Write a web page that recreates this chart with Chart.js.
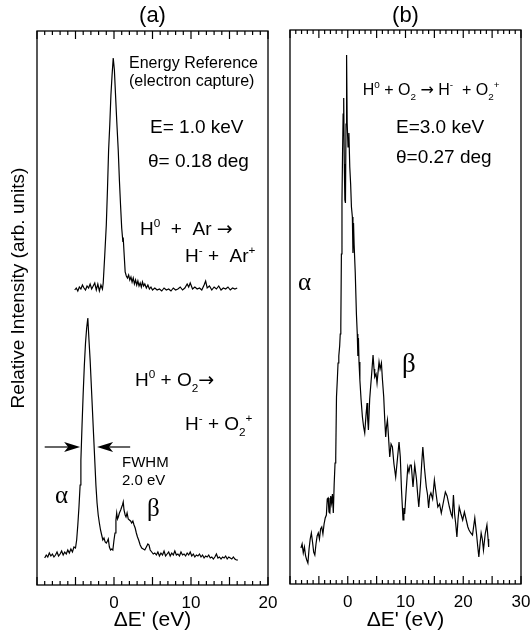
<!DOCTYPE html>
<html>
<head>
<meta charset="utf-8">
<script src="https://cdn.jsdelivr.net/npm/chart.js@4.4.0/dist/chart.umd.min.js"></script>
<style>
  html, body { margin: 0; padding: 0; background: #fff; }
  #wrap { position: relative; width: 531px; height: 634px; overflow: hidden; }
  canvas { position: absolute; top: 0; }
  #chartA { left: 0; }
  #chartB { left: 270px; }
</style>
</head>
<body>
<div id="wrap">
  <canvas id="chartA" width="280" height="634"></canvas>
  <canvas id="chartB" width="261" height="634"></canvas>
</div>
<script>
// Panel (a), upper trace: H0 + Ar -> H- + Ar+ (energy reference)
const arEnergy = [
  -5.1,-4.9,-4.7,-4.5,-4.3,-4.1,-3.9,-3.7,-3.5,-3.3,
  -3.1,-2.9,-2.7,-2.5,-2.3,-2.1,-1.9,-1.7,-1.5,-1.4,
  -1.2,-1.0,-0.85,-0.7,-0.55,-0.4,-0.25,-0.1,0.05,0.2,
  0.35,0.55,0.7,0.85,1.0,1.1,1.15,1.2,1.3,1.45,
  1.6,1.75,1.9,2.05,2.2,2.35,2.5,2.65,2.8,2.95,
  3.1,3.25,3.4,3.55,3.7,3.85,4.0,4.2,4.4,4.6,
  4.8,5.0,5.3,5.6,5.9,6.2,6.5,6.8,7.1,7.4,
  7.7,8.0,8.3,8.6,8.9,9.2,9.5,9.7,9.9,10.2,
  10.5,10.8,11.1,11.4,11.7,11.9,12.1,12.4,12.7,13.0,
  13.3,13.6,13.9,14.2,14.5,14.8,15.1,15.4,15.7,16.0
];
const arCounts = [
  295,297,294,298,296,300,297,295,299,297,
  301,296,299,302,295,301,294,300,296,302,
  330,360,395,435,460,490,510,527,515,490,
  465,435,405,380,357,348,343,347,333,313,
  309,307,310,305,308,303,307,301,305,300,
  304,299,302,298,303,299,301,297,300,296,
  298,295,297,295,296,294,297,295,296,294,
  297,295,296,298,295,297,301,298,302,296,
  298,296,297,295,300,304,297,299,295,298,
  296,299,295,297,296,298,295,297,296,297
];

// Panel (a), lower trace: H0 + O2 -> H- + O2+ at 1.0 keV
const o2aEnergy = [
  -9.0,-8.8,-8.6,-8.4,-8.2,-8.0,-7.8,-7.6,-7.4,-7.2,
  -7.0,-6.8,-6.6,-6.4,-6.2,-6.0,-5.8,-5.6,-5.4,-5.2,
  -5.0,-4.85,-4.7,-4.55,-4.4,-4.3,-4.15,-4.0,-3.85,-3.7,
  -3.55,-3.4,-3.25,-3.1,-2.95,-2.8,-2.65,-2.5,-2.35,-2.2,
  -2.05,-1.9,-1.75,-1.6,-1.45,-1.3,-1.15,-1.0,-0.85,-0.74,
  -0.6,-0.45,-0.3,-0.15,0.0,0.13,0.25,0.35,0.45,0.56,
  0.7,0.87,1.0,1.1,1.2,1.3,1.45,1.56,1.7,1.85,
  2.0,2.15,2.3,2.45,2.6,2.75,2.9,3.05,3.2,3.4,
  3.6,3.8,4.0,4.2,4.4,4.55,4.7,4.9,5.1,5.3,
  5.5,5.7,5.9,6.1,6.3,6.5,6.7,6.9,7.1,7.3,
  7.5,7.7,7.9,8.1,8.3,8.5,8.7,8.9,9.1,9.3,
  9.5,9.7,9.9,10.1,10.3,10.5,10.7,10.9,11.1,11.3,
  11.5,11.7,11.9,12.1,12.3,12.5,12.7,12.9,13.1,13.3,
  13.5,13.7,13.9,14.1,14.3,14.5,14.7,14.9,15.1,15.3,
  15.5,15.7,15.9,16.1
];
const o2aCounts = [
  27,30,28,32,29,31,28,30,33,29,
  31,34,30,33,31,35,32,36,33,38,
  37,45,60,78,100,125,160,192,220,242,
  257,267,245,225,200,175,150,125,100,82,
  70,62,55,50,45,47,43,42,44,46,
  38,35,36,35,45,52,65,72,66,68,
  72,75,78,80,83,75,70,68,72,66,
  65,64,62,64,60,57,52,48,45,40,
  37,36,35,38,41,40,35,33,31,32,
  30,33,29,32,30,34,29,31,33,29,
  32,30,34,30,31,29,33,30,31,29,
  32,30,33,29,31,28,30,29,31,28,
  30,27,29,28,30,27,28,26,28,31,
  27,28,26,28,27,29,26,28,27,26,
  28,26,25,25
];

// Panel (b): H0 + O2 -> H- + O2+ at 3.0 keV
const o2bEnergy = [
  -8.1,-7.9,-7.7,-7.5,-7.3,-7.1,-6.9,-6.7,-6.5,-6.3,
  -6.1,-5.9,-5.7,-5.5,-5.3,-5.1,-4.9,-4.7,-4.5,-4.3,
  -4.1,-3.9,-3.7,-3.55,-3.4,-3.25,-3.1,-2.95,-2.8,-2.65,
  -2.5,-2.35,-2.2,-2.08,-1.95,-1.8,-1.68,-1.55,-1.4,-1.3,
  -1.2,-1.1,-1.0,-0.9,-0.8,-0.7,-0.6,-0.5,-0.4,-0.3,
  -0.2,-0.1,0.05,0.2,0.35,0.5,0.64,0.8,0.9,1.0,
  1.1,1.3,1.5,1.65,1.75,1.85,1.95,2.1,2.3,2.54,
  2.75,2.94,3.15,3.34,3.45,3.58,3.8,4.0,4.1,4.38,
  4.55,4.67,4.9,5.07,5.25,5.42,5.6,5.83,6.0,6.23,
  6.4,6.57,6.72,6.87,7.05,7.27,7.5,7.73,8.0,8.3,
  8.6,8.88,9.1,9.3,9.57,9.72,9.86,10.1,10.4,10.6,
  10.8,11.0,11.3,11.6,11.9,12.1,12.3,12.6,12.8,13.0,
  13.3,13.6,13.8,14.0,14.2,14.4,14.7,15.0,15.3,15.6,
  15.9,16.2,16.5,16.9,17.2,17.6,17.9,18.1,18.3,18.5,
  18.7,18.9,19.1,19.3,19.6,19.9,20.2,20.4,20.8,21.0,
  21.3,21.6,22.0,22.3,22.5,22.7,22.9,23.1,23.3,23.5,
  23.8,24.1,24.3,24.4
];
const o2bCounts = [
  36,40,31,37,28,24,21,35,45,51,
  42,32,29,40,48,51,45,55,57,50,
  60,66,69,85,86,72,71,88,81,90,
  71,100,121,127,187,205,221,228,238,250,
  258,330,384,430,470,486,420,384,381,460,
  529,461,437,451,417,400,377,367,331,361,
  340,311,270,250,228,246,222,204,185,167,
  157,151,168,181,165,154,185,200,207,229,
  215,207,210,201,212,222,215,221,205,187,
  165,147,158,164,148,127,140,137,120,107,
  125,142,127,95,64,76,70,92,117,112,
  119,119,97,119,105,90,77,100,120,137,
  115,97,90,76,88,91,85,104,90,77,
  80,71,80,92,88,77,70,67,89,70,
  60,47,65,77,70,64,72,67,57,54,
  51,49,66,50,38,27,40,51,45,34,
  50,59,45,37
];

// Tick labels shown on the energy axes
const xTickLabelsA = [0, 10, 20];
const xTickLabelsB = [0, 10, 20, 30];

const SANS = "'Liberation Sans', Arial, Helvetica, sans-serif";
const SERIF = "'Liberation Serif', 'Times New Roman', serif";
const ARROW = "'DejaVu Sans', sans-serif";

function toPoints(xs, ys) {
  return xs.map((v, i) => ({ x: v, y: ys[i] }));
}

// text with simple super/subscripts: parts = ['H', ['0','sup'], ' + Ar']
function drawRich(ctx, parts, x, y, size, family) {
  let cx = x;
  parts.forEach(p => {
    const txt = Array.isArray(p) ? p[0] : p;
    const kind = Array.isArray(p) ? p[1] : '';
    const small = kind === 'sup' || kind === 'sub';
    const s = small ? size * 0.62 : size;
    const dy = kind === 'sup' ? -size * 0.42 : kind === 'sub' ? size * 0.3 : 0;
    ctx.font = s + 'px ' + (kind === 'arrow' ? ARROW : family);
    ctx.fillText(txt, cx, y + dy);
    cx += ctx.measureText(txt).width;
  });
}

// frame, inward ticks, panel label and annotations
const decorate = {
  id: 'decorate',
  afterDraw(chart, args, opts) {
    const { ctx, chartArea: a, scales: { x, y } } = chart;
    ctx.save();
    ctx.strokeStyle = '#000';
    ctx.fillStyle = '#000';

    ctx.lineWidth = 1.3;
    ctx.strokeRect(a.left, a.top, a.right - a.left, a.bottom - a.top);

    // minor tick every 1 eV, longer one every 5 eV, on bottom and top
    ctx.lineWidth = 1.2;
    ctx.beginPath();
    for (let v = opts.tickFrom; v <= opts.tickTo; v += 1) {
      const px = x.getPixelForValue(v);
      const len = Math.abs(v) % 5 === 0 ? 8 : 4;
      ctx.moveTo(px, a.bottom);
      ctx.lineTo(px, a.bottom - len);
      ctx.moveTo(px, a.top);
      ctx.lineTo(px, a.top + len);
    }
    ctx.stroke();

    ctx.textAlign = 'left';
    ctx.textBaseline = 'alphabetic';
    (opts.labels || []).forEach(l => {
      drawRich(ctx, l.parts, x.getPixelForValue(l.e), y.getPixelForValue(l.h), l.size, l.family || SANS);
    });

    ctx.lineWidth = 1.2;
    (opts.arrows || []).forEach(ar => {
      const x1 = x.getPixelForValue(ar.from);
      const x2 = x.getPixelForValue(ar.to);
      const py = y.getPixelForValue(ar.h);
      const dir = Math.sign(x2 - x1);
      ctx.beginPath();
      ctx.moveTo(x1, py); ctx.lineTo(x2 - dir * 12, py);
      ctx.stroke();
      ctx.beginPath();
      ctx.moveTo(x2, py);
      ctx.lineTo(x2 - dir * 16, py - 5);
      ctx.lineTo(x2 - dir * 12, py);
      ctx.lineTo(x2 - dir * 16, py + 5);
      ctx.closePath();
      ctx.fill();
    });

    ctx.textAlign = 'center';
    ctx.textBaseline = 'middle';
    ctx.font = '22px ' + SANS;
    ctx.fillText(opts.panel, (a.left + a.right) / 2, 16);

    if (opts.yTitle) {
      ctx.save();
      ctx.translate(19, (a.top + a.bottom) / 2 - 20);
      ctx.rotate(-Math.PI / 2);
      ctx.font = '19px ' + SANS;
      ctx.fillText(opts.yTitle, 0, 0);
      ctx.restore();
    }
    ctx.restore();
  }
};

function makeChart(id, datasets, xMax, tickLabels, leftPad, rightPad, topPad, axisHeight, deco) {
  const ctx = document.getElementById(id).getContext('2d');
  deco.tickFrom = -10;
  deco.tickTo = xMax;
  return new Chart(ctx, {
    type: 'line',
    data: {
      datasets: datasets.map(d => ({
        data: d,
        borderColor: '#000',
        borderWidth: 1.2,
        pointRadius: 0,
        tension: 0,
        fill: false
      }))
    },
    options: {
      responsive: false,
      animation: false,
      layout: { padding: { left: leftPad, right: rightPad, top: topPad, bottom: 0 } },
      plugins: {
        legend: { display: false },
        tooltip: { enabled: false },
        decorate: deco
      },
      scales: {
        x: {
          type: 'linear',
          min: -10,
          max: xMax,
          grid: { display: false, drawTicks: false },
          border: { display: false },
          ticks: {
            stepSize: 10,
            autoSkip: false,
            maxRotation: 0,
            padding: 8,
            color: '#000',
            font: { family: SANS, size: 17 },
            callback: v => tickLabels.includes(v) ? String(v) : ''
          },
          title: {
            display: true,
            text: "ΔE' (eV)",
            color: '#000',
            font: { family: SANS, size: 21 },
            padding: { top: 0, bottom: 1 }
          },
          afterFit(s) {
            s.height = axisHeight;
            s.paddingLeft = 0;
            s.paddingRight = 0;
          }
        },
        y: {
          display: false,
          min: 0,
          max: 554
        }
      }
    },
    plugins: [decorate]
  });
}

makeChart('chartA',
  [toPoints(arEnergy, arCounts), toPoints(o2aEnergy, o2aCounts)],
  20, xTickLabelsA, 37, 12, 31, 49,
  {
    panel: '(a)',
    yTitle: 'Relative Intensity (arb. units)',
    labels: [
      { parts: ['Energy Reference'], e: 1.95, h: 517, size: 16 },
      { parts: ['(electron capture)'], e: 1.95, h: 499, size: 16 },
      { parts: ['E= 1.0 keV'], e: 4.68, h: 452, size: 19 },
      { parts: ['θ= 0.18 deg'], e: 4.42, h: 418, size: 19 },
      { parts: ['H', ['0', 'sup'], '  +  Ar ', ['→', 'arrow']], e: 3.38, h: 350, size: 19 },
      { parts: ['H', ['-', 'sup'], ' +  Ar', ['+', 'sup']], e: 9.22, h: 323, size: 19 },
      { parts: ['H', ['0', 'sup'], ' + O', ['2', 'sub'], ['→', 'arrow']], e: 2.73, h: 199, size: 19 },
      { parts: ['H', ['-', 'sup'], ' + O', ['2', 'sub'], ['+', 'sup']], e: 9.22, h: 155, size: 19 },
      { parts: ['FWHM'], e: 1.04, h: 118, size: 15 },
      { parts: ['2.0 eV'], e: 1.04, h: 100, size: 15 },
      { parts: ['α'], e: -7.66, h: 82, size: 25, family: SERIF },
      { parts: ['β'], e: 4.29, h: 69, size: 25, family: SERIF }
    ],
    arrows: [
      { from: -9.0, to: -4.4, h: 138 },
      { from: 2.1, to: -2.2, h: 138 }
    ]
  });

makeChart('chartB',
  [toPoints(o2bEnergy, o2bCounts)],
  30, xTickLabelsB, 20, 10, 30, 50,
  {
    panel: '(b)',
    labels: [
      { parts: ['H', ['0', 'sup'], ' + O', ['2', 'sub'], ' ', ['→', 'arrow'], ' H', ['-', 'sup'], '  + O', ['2', 'sub'], ['+', 'sup']], e: 2.6, h: 489, size: 16 },
      { parts: ['E=3.0 keV'], e: 8.35, h: 451, size: 19 },
      { parts: ['θ=0.27 deg'], e: 8.35, h: 421, size: 19 },
      { parts: ['α'], e: -8.6, h: 294, size: 25, family: SERIF },
      { parts: ['β'], e: 9.4, h: 212, size: 27, family: SERIF }
    ]
  });
</script>
</body>
</html>
